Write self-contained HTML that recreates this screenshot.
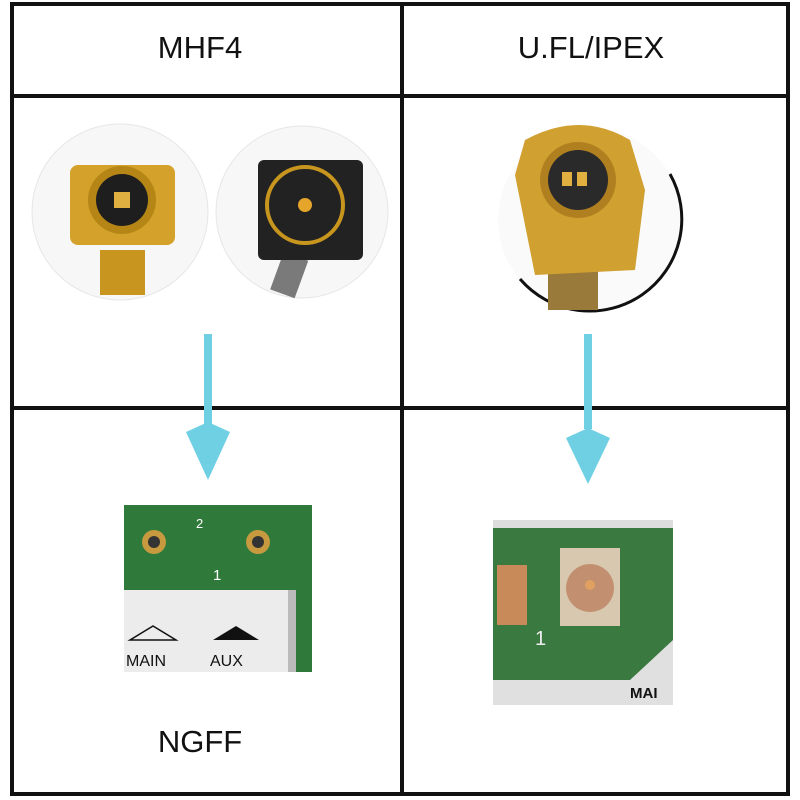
<!DOCTYPE html>
<html><head><meta charset="utf-8"><style>
body{margin:0;width:800px;height:800px;background:#fff;position:relative;overflow:hidden;font-family:"Liberation Sans",sans-serif}
.l{position:absolute;background:#111}
.t{position:absolute;font-size:31px;color:#111;text-align:center;width:300px}
</style></head><body>
<div class="l" style="left:10px;top:2px;width:780px;height:4px"></div>
<div class="l" style="left:10px;top:94px;width:780px;height:4px"></div>
<div class="l" style="left:10px;top:406px;width:780px;height:4px"></div>
<div class="l" style="left:10px;top:792px;width:780px;height:4px"></div>
<div class="l" style="left:10px;top:2px;width:4px;height:794px"></div>
<div class="l" style="left:400px;top:2px;width:4px;height:794px"></div>
<div class="l" style="left:786px;top:2px;width:4px;height:794px"></div>
<div class="t" style="left:50px;top:30px">MHF4</div>
<div class="t" style="left:441px;top:30px">U.FL/IPEX</div>
<div class="t" style="left:50px;top:724px">NGFF</div>
<svg width="800" height="800" style="position:absolute;left:0;top:0">
<circle cx="120" cy="212" r="88" fill="#f7f7f7" stroke="#e6e6e6"/>
<circle cx="302" cy="212" r="86" fill="#f7f7f7" stroke="#e6e6e6"/>
<circle cx="590" cy="220" r="92" fill="#fafafa"/>
<path d="M670 174 A92 92 0 0 1 520 279" fill="none" stroke="#111" stroke-width="3"/>
<rect x="100" y="250" width="45" height="45" fill="#c8961e"/>
<rect x="70" y="165" width="105" height="80" rx="8" fill="#d4a12a"/>
<circle cx="122" cy="200" r="34" fill="#b58616"/>
<circle cx="122" cy="200" r="26" fill="#1e1e1e"/>
<rect x="114" y="192" width="16" height="16" fill="#e0b040"/>
<rect x="278" y="255" width="26" height="40" fill="#7a7a7a" transform="rotate(20 290 270)"/>
<rect x="258" y="160" width="105" height="100" rx="6" fill="#222"/>
<circle cx="305" cy="205" r="38" fill="none" stroke="#c8961e" stroke-width="4"/>
<circle cx="305" cy="205" r="7" fill="#e5a52a"/>
<rect x="548" y="255" width="50" height="55" fill="#9a7a3a"/>
<path d="M525 140 Q580 110 630 140 L645 190 L635 270 L535 275 L515 175 Z" fill="#d0a030"/>
<circle cx="578" cy="180" r="38" fill="#b08020"/>
<circle cx="578" cy="180" r="30" fill="#2a2a2a"/>
<rect x="562" y="172" width="10" height="14" fill="#e0b040"/><rect x="577" y="172" width="10" height="14" fill="#e0b040"/>
<rect x="204" y="334" width="8" height="95" fill="#6fd0e4"/>
<polygon points="186,432 208,422 230,432 208,480" fill="#6fd0e4"/>
<rect x="584" y="334" width="8" height="95" fill="#6fd0e4"/>
<polygon points="566,438 588,428 610,438 588,484" fill="#6fd0e4"/>
<rect x="124" y="505" width="188" height="167" fill="#2f7a3a"/>
<rect x="124" y="590" width="172" height="82" fill="#ececec"/>
<rect x="288" y="590" width="8" height="82" fill="#bbb"/>
<circle cx="154" cy="542" r="12" fill="#c79a40"/><circle cx="154" cy="542" r="6" fill="#333"/>
<circle cx="258" cy="542" r="12" fill="#c79a40"/><circle cx="258" cy="542" r="6" fill="#333"/>
<text x="196" y="528" fill="#fff" font-size="13" font-family="Liberation Sans">2</text>
<text x="213" y="580" fill="#fff" font-size="15" font-family="Liberation Sans">1</text>
<polygon points="130,640 153,626 176,640" fill="none" stroke="#111" stroke-width="1.5"/>
<polygon points="213,640 236,626 259,640" fill="#111"/>
<text x="126" y="666" font-size="16" font-family="Liberation Sans" fill="#111">MAIN</text>
<text x="210" y="666" font-size="16" font-family="Liberation Sans" fill="#111">AUX</text>
<rect x="493" y="520" width="180" height="185" fill="#3a7a40"/>
<rect x="493" y="520" width="180" height="8" fill="#ddd"/>
<path d="M493 680 L630 680 L673 640 L673 705 L493 705 Z" fill="#e0e0e0"/>
<rect x="497" y="565" width="30" height="60" fill="#c98a5a"/>
<rect x="560" y="548" width="60" height="78" fill="#d8c8b0"/>
<circle cx="590" cy="588" r="24" fill="#c29070"/>
<circle cx="590" cy="585" r="5" fill="#e0a060"/>
<text x="535" y="645" fill="#eee" font-size="20" font-family="Liberation Sans">1</text>
<text x="630" y="698" font-size="15" font-weight="bold" font-family="Liberation Sans" fill="#111">MAI</text>
</svg>
</body></html>
